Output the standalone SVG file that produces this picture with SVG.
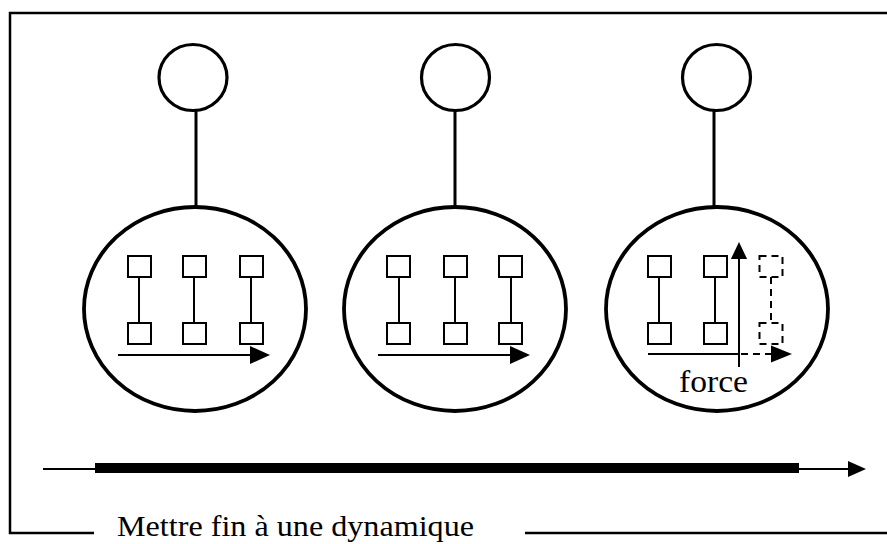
<svg xmlns="http://www.w3.org/2000/svg" xmlns:xlink="http://www.w3.org/1999/xlink" width="887" height="544" viewBox="0 0 887 544">
<style>
.bg{fill:#fff}
.frame{fill:none;stroke:#000;stroke-width:2.5}
.head{fill:#fff;stroke:#000;stroke-width:3.2}
.cell{fill:#fff;stroke:#000;stroke-width:3.8}
.stem{stroke:#000;stroke-width:3}
.sq{fill:#fff;stroke:#000;stroke-width:2}
.ln{stroke:#000;stroke-width:2;fill:none}
.dash{fill:none;stroke:#000;stroke-width:2;stroke-dasharray:7 5}
.ah{fill:#000}
.txt{font-family:"Liberation Serif","Times New Roman",serif;fill:#000}
</style>
<defs>
<path id="arrow" class="ah" d="M-20,-9 L0,0 L-20,9 Z"/>
</defs>
<rect class="bg" x="0" y="0" width="887" height="544"/>
<g id="frame">
<path class="frame" d="M94,533 H10 V13 H887"/>
<path class="frame" d="M525,533 H887"/>
</g>
<g id="connectors">
<line class="stem" x1="196" y1="111" x2="196" y2="207"/>
<line class="stem" x1="455" y1="111" x2="455" y2="208"/>
<line class="stem" x1="714" y1="111" x2="714" y2="208"/>
</g>
<g id="head1"><ellipse class="head" cx="193" cy="77.5" rx="34" ry="33"/></g>
<g id="head2"><ellipse class="head" cx="455.5" cy="77.5" rx="34" ry="33"/></g>
<g id="head3"><ellipse class="head" cx="716.5" cy="77.5" rx="34" ry="33"/></g>
<g id="cell1">
<ellipse class="cell" cx="195" cy="309" rx="111" ry="102"/>
<line class="ln" x1="139" y1="277" x2="139" y2="323"/>
<line class="ln" x1="194" y1="277" x2="194" y2="323"/>
<line class="ln" x1="251" y1="277" x2="251" y2="323"/>
<rect class="sq" x="128" y="256" width="23" height="21"/>
<rect class="sq" x="183" y="256" width="23" height="21"/>
<rect class="sq" x="240" y="256" width="23" height="21"/>
<rect class="sq" x="128" y="323" width="23" height="21"/>
<rect class="sq" x="183" y="323" width="23" height="21"/>
<rect class="sq" x="240" y="323" width="23" height="21"/>
<line class="ln" x1="118" y1="355" x2="255" y2="355"/>
<use xlink:href="#arrow" transform="translate(270,355)"/>
</g>
<g id="cell2">
<ellipse class="cell" cx="455" cy="309" rx="111" ry="102"/>
<line class="ln" x1="399" y1="277" x2="399" y2="323"/>
<line class="ln" x1="455" y1="277" x2="455" y2="323"/>
<line class="ln" x1="511" y1="277" x2="511" y2="323"/>
<rect class="sq" x="387" y="256" width="23" height="21"/>
<rect class="sq" x="444" y="256" width="23" height="21"/>
<rect class="sq" x="499" y="256" width="23" height="21"/>
<rect class="sq" x="387" y="323" width="23" height="21"/>
<rect class="sq" x="444" y="323" width="23" height="21"/>
<rect class="sq" x="499" y="323" width="23" height="21"/>
<line class="ln" x1="378" y1="355" x2="515" y2="355"/>
<use xlink:href="#arrow" transform="translate(530,355)"/>
</g>
<g id="cell3">
<ellipse class="cell" cx="717" cy="309" rx="111" ry="102"/>
<line class="ln" x1="659" y1="277" x2="659" y2="323"/>
<line class="ln" x1="715" y1="277" x2="715" y2="323"/>
<rect class="sq" x="648" y="256" width="23" height="21"/>
<rect class="sq" x="704" y="256" width="23" height="21"/>
<rect class="sq" x="648" y="323" width="23" height="21"/>
<rect class="sq" x="704" y="323" width="23" height="21"/>
<line class="ln" x1="648" y1="354" x2="739" y2="354"/>
<line class="ln" x1="739" y1="367" x2="739" y2="255"/>
<use xlink:href="#arrow" transform="translate(739,242) rotate(-90) scale(0.85,0.9)"/>
<rect class="dash" x="759.5" y="256" width="23" height="21"/>
<rect class="dash" x="759.5" y="323" width="23" height="21"/>
<line class="dash" x1="771" y1="277" x2="771" y2="323"/>
<line class="dash" x1="741" y1="354" x2="774" y2="354"/>
<use xlink:href="#arrow" transform="translate(792,354) scale(1.05,0.95)"/>
<text class="txt" x="679" y="392" font-size="31" textLength="69" lengthAdjust="spacingAndGlyphs">force</text>
</g>
<g id="timeline">
<line class="ln" x1="43" y1="469" x2="850" y2="469"/>
<rect x="95" y="463" width="704" height="10" fill="#000"/>
<use xlink:href="#arrow" transform="translate(866,469) scale(0.9,0.9)"/>
</g>
<g id="caption">
<text class="txt" x="117" y="536" font-size="29" textLength="357" lengthAdjust="spacingAndGlyphs">Mettre fin à une dynamique</text>
</g>
</svg>
